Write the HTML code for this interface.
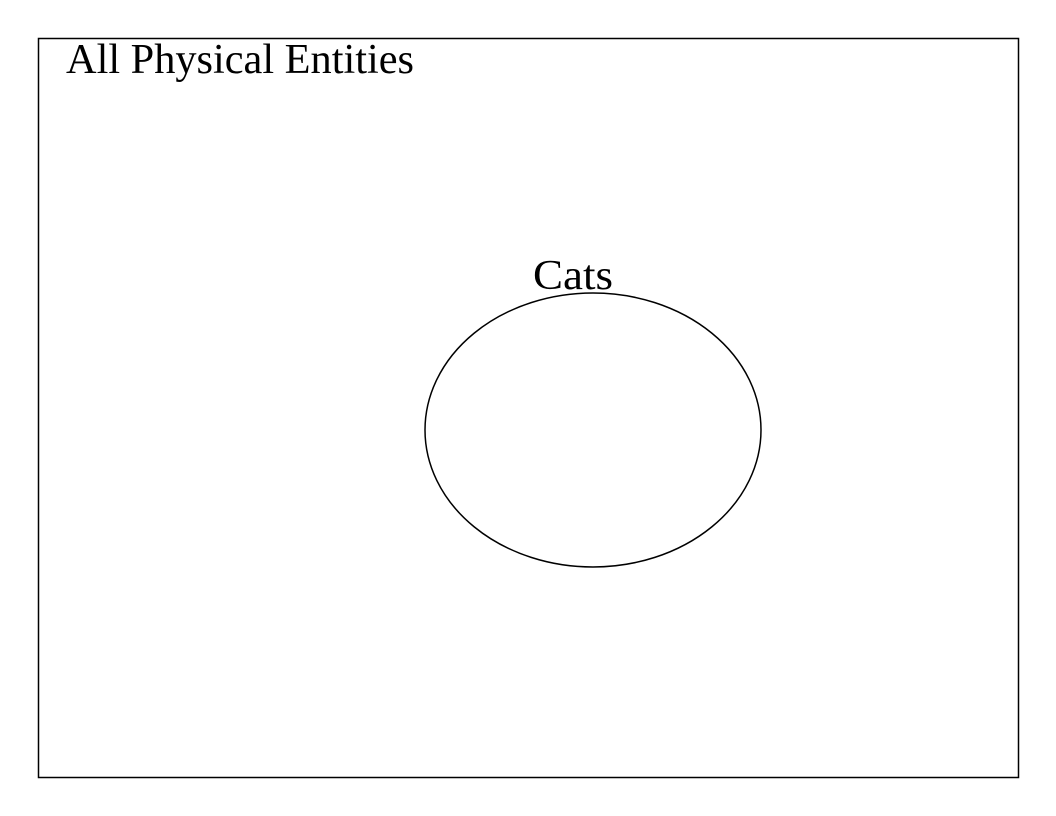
<!DOCTYPE html>
<html><head><meta charset="utf-8"><style>html,body{margin:0;padding:0;background:#fff}svg{display:block}</style></head>
<body>
<svg width="1056" height="816" viewBox="0 0 1056 816">
<rect x="38.5" y="38.5" width="980" height="739" fill="#fff" stroke="#000" stroke-width="1.5"/>
<text x="66" y="73" font-family="Liberation Serif, serif" font-size="42" textLength="348" lengthAdjust="spacingAndGlyphs" fill="#000">All Physical Entities</text>
<ellipse cx="593" cy="430" rx="168" ry="137" fill="none" stroke="#000" stroke-width="1.5"/>
<text x="533" y="289" font-family="Liberation Serif, serif" font-size="42" textLength="80" lengthAdjust="spacingAndGlyphs" fill="#000">Cats</text>
</svg>
</body></html>
